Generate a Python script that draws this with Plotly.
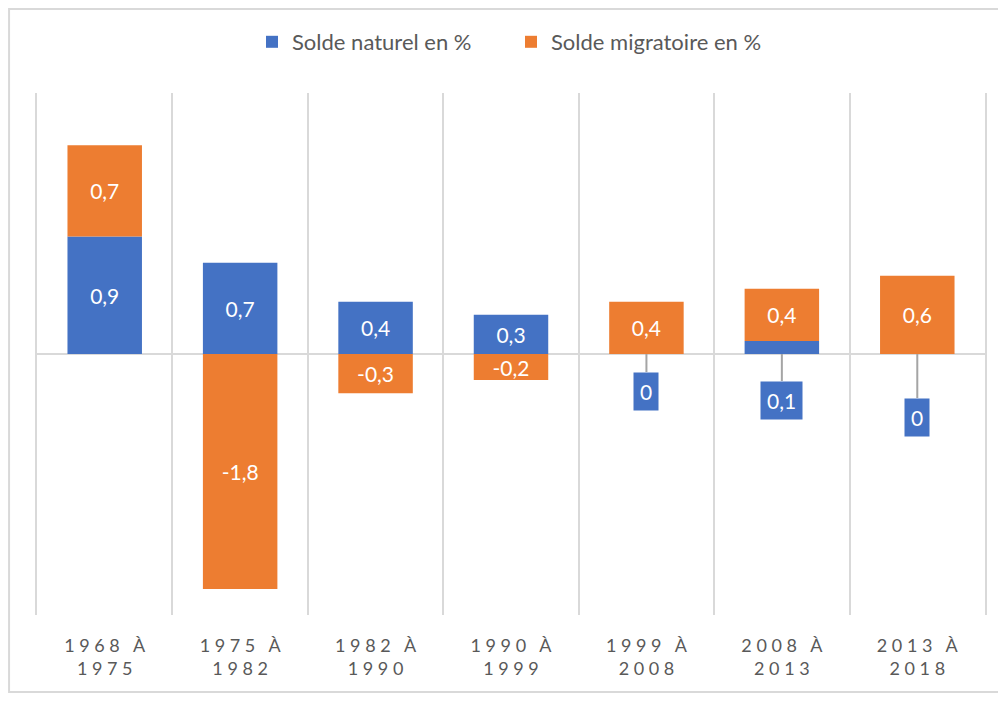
import plotly.graph_objects as go

periods = ["1968 À 1975", "1975 À 1982", "1982 À 1990", "1990 À 1999",
           "1999 À 2008", "2008 À 2013", "2013 À 2018"]
solde_naturel = [0.9, 0.7, 0.4, 0.3, 0.0, 0.1, 0.0]
solde_migratoire = [0.7, -1.8, -0.3, -0.2, 0.4, 0.4, 0.6]

BLUE = "#4472C4"
ORANGE = "#ED7D31"
GRID = "#D9D9D9"
TXT = "#595959"
FONT = "Lato"

# the page adds an 8px body margin, so work in figure pixels (screen - 8)
OFF = 8
W, H = 1006 - 2 * OFF, 701 - 2 * OFF
L, R, T, B = 37 - OFF, 987 - OFF, 93 - OFF, 615 - OFF
pw, ph = R - L, B - T


def fmt(v):
    s = f"{v:.1f}".replace(".", ",")
    return "0" if v == 0 else s


def spaced(s):
    # mimic the letter spacing of the category labels
    sp = "\u00a0"
    a, b, c = s.split(" ")
    return sp.join(a) + sp * 3 + b + "<br>" + sp.join(c)


# small values get an outside label with a leader line (offset in px)
outside = {4: 37, 5: 46, 6: 63}

nat_text = ["" if i in outside else fmt(v) for i, v in enumerate(solde_naturel)]
mig_text = [fmt(v) for v in solde_migratoire]

fig = go.Figure()
fig.add_trace(go.Bar(name="Solde naturel en %", x=periods, y=solde_naturel,
                     marker=dict(color=BLUE, line=dict(width=0)),
                     text=nat_text, textposition="inside", insidetextanchor="middle",
                     textfont=dict(color="white", size=21, family=FONT)))
fig.add_trace(go.Bar(name="Solde migratoire en %", x=periods, y=solde_migratoire,
                     marker=dict(color=ORANGE, line=dict(width=0)),
                     text=mig_text, textposition="inside", insidetextanchor="middle",
                     textfont=dict(color="white", size=21, family=FONT)))

for i, off in outside.items():
    fig.add_annotation(x=periods[i], y=0, xref="x", yref="y",
                       text=fmt(solde_naturel[i]), showarrow=True, arrowhead=0,
                       arrowwidth=2, arrowcolor="#A5A5A5", ax=0, ay=off,
                       bgcolor=BLUE, borderpad=6,
                       font=dict(color="white", size=21, family=FONT))

# outer chart border
fig.add_shape(type="rect", xref="paper", yref="paper",
              x0=(1 - L) / pw, x1=(W + 10 - L) / pw,
              y0=(B - (H - 1)) / ph, y1=1 + (T - 1) / ph,
              line=dict(color=GRID, width=2), layer="below")

fig.update_layout(
    width=W, height=H,
    margin=dict(l=L, r=W - R, t=T, b=H - B),
    barmode="relative", bargap=0.45,
    plot_bgcolor="white", paper_bgcolor="white",
    font=dict(family=FONT, color=TXT),
    uniformtext=dict(minsize=21, mode="show"),
    legend=dict(orientation="h", x=0.5, xanchor="center",
                y=1 + (T - 34) / ph, yanchor="middle",
                font=dict(size=22, color=TXT), traceorder="normal",
                entrywidth=214, entrywidthmode="pixels"),
    showlegend=True,
)
fig.update_xaxes(tickmode="array", tickvals=periods,
                 ticktext=[spaced(p) for p in periods],
                 tickson="boundaries", showgrid=True, gridcolor=GRID, gridwidth=2,
                 ticks="", tickfont=dict(size=18, color=TXT, family=FONT),
                 ticklabelstandoff=18, showline=False, zeroline=False)
fig.update_yaxes(range=[-2, 2], showgrid=False, showticklabels=False,
                 showline=True, mirror=True, linecolor=GRID, linewidth=2,
                 zeroline=True, zerolinecolor=GRID, zerolinewidth=2)

fig.write_html("out.html")
